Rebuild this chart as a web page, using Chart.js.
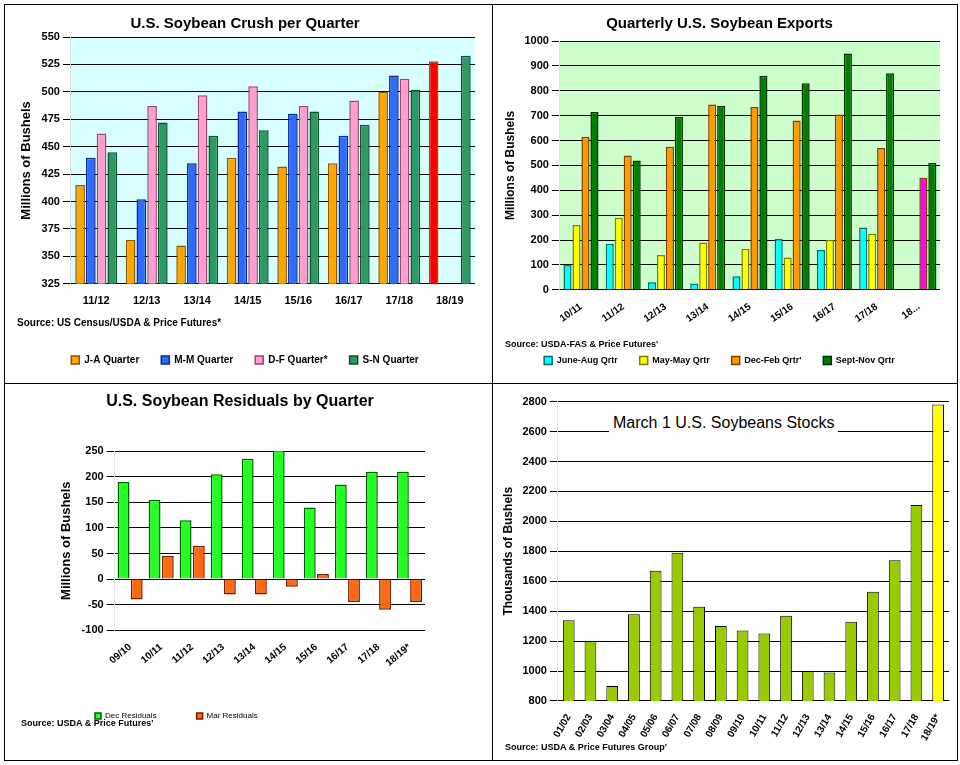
<!DOCTYPE html>
<html>
<head>
<meta charset="utf-8">
<script src="https://cdn.jsdelivr.net/npm/chart.js@4/dist/chart.umd.min.js"></script>
<style>
  body { margin: 0; background: #fff; font-family: Arial, "Liberation Sans", sans-serif; }
  #wrap { position: relative; width: 960px; height: 765px; }
  .panel { position: absolute; border: 1px solid #000; box-sizing: border-box; background: #fff; }
  .panel canvas { position: absolute; }
  .src { position: absolute; font-size: 10px; font-weight: bold; }
</style>
</head>
<body>
<div id="wrap">
  <div class="panel" style="left:4px;top:4px;width:489px;height:380px">
    <canvas id="crush" style="left:10px;top:10px;width:470px;height:368px"></canvas>
    <div class="src" style="left:12px;top:312px">Source: US Census/USDA &amp; Price Futures*</div>
  </div>
  <div class="panel" style="left:492px;top:4px;width:466px;height:380px">
    <canvas id="exports" style="left:6px;top:10px;width:455px;height:368px"></canvas>
    <div class="src" style="left:12px;top:334px;font-size:9px">Source: USDA-FAS &amp; Price Futures'</div>
  </div>
  <div class="panel" style="left:4px;top:383px;width:489px;height:378px">
    <canvas id="resid" style="left:10px;top:8px;width:470px;height:368px"></canvas>
    <div class="src" style="left:16px;top:334px;font-size:9px">Source: USDA &amp; Price Futures'</div>
  </div>
  <div class="panel" style="left:492px;top:383px;width:466px;height:378px">
    <canvas id="stocks" style="left:4px;top:8px;width:458px;height:368px"></canvas>
    <div style="position:absolute;left:116px;top:30px;font-size:16px;background:#fff;padding:0 4px">March 1 U.S. Soybeans Stocks</div>
    <div class="src" style="left:12px;top:358px;font-size:9px">Source: USDA &amp; Price Futures Group'</div>
  </div>
</div>
<script>
// Crush per quarter
const crushYears = ['11/12', '12/13', '13/14', '14/15', '15/16', '16/17', '17/18', '18/19'];
const crushJA = [415, 365, 360, 440, 432, 435, 500, 528];
const crushMM = [440, 402, 435, 482, 480, 460, 515, null];
const crushDF = [462, 487, 497, 505, 487, 492, 512, null];
const crushSN = [445, 472, 460, 465, 482, 470, 502, 533];

// Quarterly exports
const expYears = ['10/11', '11/12', '12/13', '13/14', '14/15', '15/16', '16/17', '17/18', '18...'];
const expJuneAug = [100, 185, 30, 25, 55, 205, 160, 250, null];
const expMarMay = [260, 290, 140, 190, 165, 130, 200, 225, null];
const expDecFeb = [615, 540, 575, 745, 735, 680, 705, 570, 450];
const expSeptNov = [715, 520, 695, 740, 860, 830, 950, 870, 510];

// Residuals
const resYears = ['09/10', '10/11', '11/12', '12/13', '13/14', '14/15', '15/16', '16/17', '17/18', '18/19*'];
const resDec = [190, 155, 115, 205, 235, 255, 140, 185, 210, 210];
const resMar = [-40, 45, 65, -30, -30, -15, 10, -45, -60, -45];

// March 1 stocks
const stockYears = ['01/02', '02/03', '03/04', '04/05', '05/06', '06/07', '07/08', '08/09', '09/10',
  '10/11', '11/12', '12/13', '13/14', '14/15', '15/16', '16/17', '17/18', '18/19*'];
const stockVals = [1340, 1200, 900, 1380, 1670, 1790, 1430, 1300, 1270, 1250, 1370, 1000, 990, 1330,
  1530, 1740, 2110, 2780];

Chart.defaults.font.family = 'Arial, "Liberation Sans", sans-serif';
Chart.defaults.font.weight = 'bold';
Chart.defaults.color = '#000';
Chart.defaults.animation = false;

// paints the plot area background
const areaBg = {
  id: 'areaBg',
  beforeDraw(chart, args, opts) {
    if (!opts.color) return;
    const a = chart.chartArea, c = chart.ctx;
    c.save();
    c.fillStyle = opts.color;
    c.fillRect(a.left, a.top, a.right - a.left, a.bottom - a.top);
    c.restore();
  }
};
Chart.register(areaBg);

function ds(label, data, color, border) {
  return { label, data, backgroundColor: color, borderColor: border, borderWidth: 1.5,
    categoryPercentage: 0.85, barPercentage: 0.9 };
}

function legendOpts(size) {
  return { position: 'bottom', labels: { boxWidth: 8, boxHeight: 8, font: { size: size }, padding: 22 } };
}

const plain = v => v;
// leaves room under the x labels for the source line
const roomBelow = px => scale => { scale.height += px; };

const crushJAColors = crushJA.map((v, i) => i === 7 ? '#ff0000' : '#ffa500');
new Chart(document.getElementById('crush'), {
  type: 'bar',
  data: {
    labels: crushYears,
    datasets: [
      ds('J-A Quarter', crushJA, crushJAColors, '#8a5a00'),
      ds('M-M Quarter', crushMM, '#2f6bff', '#0a2a90'),
      ds('D-F Quarter*', crushDF, '#ff9fd0', '#9a4a70'),
      ds('S-N Quarter', crushSN, '#2e9a63', '#0f5030')
    ]
  },
  options: {
    responsive: false,
    layout: { padding: { top: 0, right: 10, bottom: 8 } },
    plugins: {
      areaBg: { color: '#d8ffff' },
      title: { display: true, text: 'U.S. Soybean Crush per Quarter', font: { size: 15 }, padding: { bottom: 4 } },
      legend: legendOpts(10),
      tooltip: { enabled: false }
    },
    scales: {
      x: { grid: { display: false }, ticks: { font: { size: 11 } }, afterFit: roomBelow(22) },
      y: {
        min: 325, max: 550,
        ticks: { stepSize: 25, font: { size: 11 }, callback: plain },
        grid: { color: '#000' },
        title: { display: true, text: 'Millions of Bushels', font: { size: 13 } }
      }
    }
  }
});

const expDecColors = expDecFeb.map((v, i) => i === 8 ? '#ff00ff' : '#ff9900');
new Chart(document.getElementById('exports'), {
  type: 'bar',
  data: {
    labels: expYears,
    datasets: [
      ds('June-Aug Qrtr', expJuneAug, '#00ffff', '#007070'),
      ds('May-May Qrtr', expMarMay, '#ffff00', '#808000'),
      ds("Dec-Feb Qrtr'", expDecFeb, expDecColors, '#804000'),
      ds('Sept-Nov Qrtr', expSeptNov, '#008000', '#003000')
    ]
  },
  options: {
    responsive: false,
    layout: { padding: { top: 0, right: 14, bottom: 8 } },
    plugins: {
      areaBg: { color: '#ccffcc' },
      title: { display: true, text: 'Quarterly U.S. Soybean Exports', font: { size: 15 }, padding: { bottom: 8 } },
      legend: legendOpts(9),
      tooltip: { enabled: false }
    },
    scales: {
      x: { grid: { display: false }, ticks: { font: { size: 10 }, maxRotation: 35, minRotation: 35 }, afterFit: roomBelow(6) },
      y: {
        min: 0, max: 1000,
        ticks: { stepSize: 100, font: { size: 11 }, callback: plain },
        grid: { color: '#000' },
        title: { display: true, text: 'Millions of Bushels', font: { size: 12 } }
      }
    }
  }
});

new Chart(document.getElementById('resid'), {
  type: 'bar',
  data: {
    labels: resYears,
    datasets: [
      ds('Dec Residuals', resDec, '#22ff22', '#006000'),
      ds('Mar Residuals', resMar, '#ff6a10', '#702000')
    ]
  },
  options: {
    responsive: false,
    layout: { padding: { top: 0, left: 40, right: 60, bottom: 30 } },
    plugins: {
      title: { display: true, text: 'U.S. Soybean Residuals by Quarter', font: { size: 16 }, padding: { bottom: 40 } },
      legend: { position: 'bottom', align: 'start', labels: { boxWidth: 6, boxHeight: 6, font: { size: 8, weight: 'normal' }, padding: 40 } },
      tooltip: { enabled: false }
    },
    scales: {
      x: { grid: { display: false }, ticks: { font: { size: 10 }, maxRotation: 40, minRotation: 40 } },
      y: {
        min: -100, max: 250,
        ticks: { stepSize: 50, font: { size: 11 } },
        grid: { color: '#000' },
        title: { display: true, text: 'Millions of Bushels', font: { size: 13 } }
      }
    }
  }
});

const stockColors = stockVals.map((v, i) => i === stockVals.length - 1 ? '#ffff00' : '#99cc00');
new Chart(document.getElementById('stocks'), {
  type: 'bar',
  data: {
    labels: stockYears,
    datasets: [{ label: 'March 1 Stocks', data: stockVals, backgroundColor: stockColors,
      borderColor: '#000', borderWidth: 1, categoryPercentage: 0.6, barPercentage: 0.9 }]
  },
  options: {
    responsive: false,
    layout: { padding: { top: 8, right: 6, bottom: 14 } },
    plugins: {
      legend: { display: false },
      tooltip: { enabled: false }
    },
    scales: {
      x: { grid: { display: false }, ticks: { font: { size: 10 }, maxRotation: 60, minRotation: 60 } },
      y: {
        min: 800, max: 2800,
        ticks: { stepSize: 200, font: { size: 11 }, callback: plain },
        grid: { color: '#000' },
        title: { display: true, text: 'Thousands of Bushels', font: { size: 12 } }
      }
    }
  }
});
</script>
</body>
</html>
